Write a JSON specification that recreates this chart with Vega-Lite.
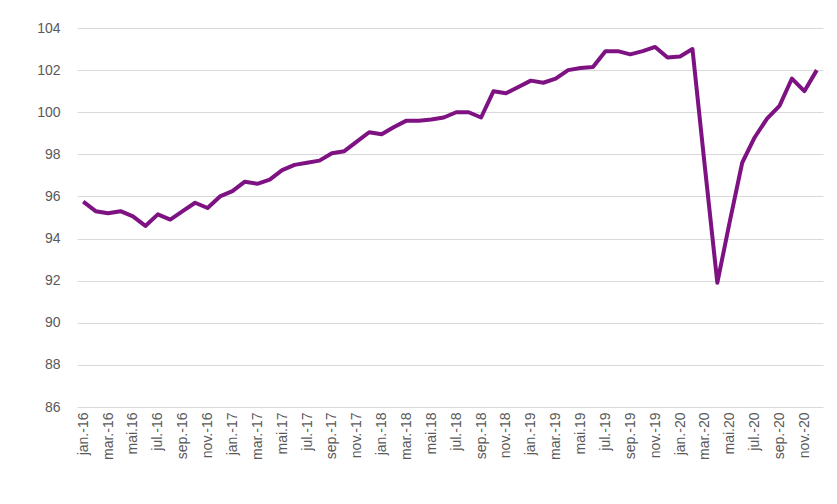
{
  "$schema": "https://vega.github.io/schema/vega-lite/v6.json",
  "autosize": {"type": "none"},
  "width": 746,
  "height": 379,
  "padding": {"left": 77, "top": 28, "right": 14, "bottom": 97},
  "background": "white",
  "config": {
    "view": {"stroke": null},
    "font": "Liberation Sans"
  },
  "data": {
    "values": [
      {"m": "jan.-16", "v": 95.75},
      {"m": "feb.-16", "v": 95.3},
      {"m": "mar.-16", "v": 95.2},
      {"m": "apr.-16", "v": 95.3},
      {"m": "mai.16", "v": 95.05},
      {"m": "jun.-16", "v": 94.6},
      {"m": "jul.-16", "v": 95.15},
      {"m": "aug.-16", "v": 94.9},
      {"m": "sep.-16", "v": 95.3},
      {"m": "okt.-16", "v": 95.7},
      {"m": "nov.-16", "v": 95.45},
      {"m": "des.-16", "v": 96.0},
      {"m": "jan.-17", "v": 96.25},
      {"m": "feb.-17", "v": 96.7},
      {"m": "mar.-17", "v": 96.6},
      {"m": "apr.-17", "v": 96.8},
      {"m": "mai.17", "v": 97.25},
      {"m": "jun.-17", "v": 97.5},
      {"m": "jul.-17", "v": 97.6},
      {"m": "aug.-17", "v": 97.7},
      {"m": "sep.-17", "v": 98.05},
      {"m": "okt.-17", "v": 98.15},
      {"m": "nov.-17", "v": 98.6},
      {"m": "des.-17", "v": 99.05},
      {"m": "jan.-18", "v": 98.95},
      {"m": "feb.-18", "v": 99.3},
      {"m": "mar.-18", "v": 99.6},
      {"m": "apr.-18", "v": 99.6},
      {"m": "mai.18", "v": 99.65},
      {"m": "jun.-18", "v": 99.75},
      {"m": "jul.-18", "v": 100.0},
      {"m": "aug.-18", "v": 100.0},
      {"m": "sep.-18", "v": 99.75},
      {"m": "okt.-18", "v": 101.0},
      {"m": "nov.-18", "v": 100.9},
      {"m": "des.-18", "v": 101.2},
      {"m": "jan.-19", "v": 101.5},
      {"m": "feb.-19", "v": 101.4},
      {"m": "mar.-19", "v": 101.6},
      {"m": "apr.-19", "v": 102.0},
      {"m": "mai.19", "v": 102.1},
      {"m": "jun.-19", "v": 102.15},
      {"m": "jul.-19", "v": 102.9},
      {"m": "aug.-19", "v": 102.9},
      {"m": "sep.-19", "v": 102.75},
      {"m": "okt.-19", "v": 102.9},
      {"m": "nov.-19", "v": 103.1},
      {"m": "des.-19", "v": 102.6},
      {"m": "jan.-20", "v": 102.65},
      {"m": "feb.-20", "v": 103.0},
      {"m": "mar.-20", "v": 97.4},
      {"m": "apr.-20", "v": 91.9},
      {"m": "mai.20", "v": 94.8},
      {"m": "jun.-20", "v": 97.6},
      {"m": "jul.-20", "v": 98.8},
      {"m": "aug.-20", "v": 99.7},
      {"m": "sep.-20", "v": 100.3},
      {"m": "okt.-20", "v": 101.6},
      {"m": "nov.-20", "v": 101.0},
      {"m": "des.-20", "v": 102.0}
    ]
  },
  "mark": {"type": "line", "color": "#7e1282", "strokeWidth": 4, "strokeJoin": "round"},
  "encoding": {
    "x": {
      "field": "m",
      "type": "ordinal",
      "sort": null,
      "scale": {"type": "point", "padding": 0.5},
      "axis": {
        "title": null,
        "values": ["jan.-16","mar.-16","mai.16","jul.-16","sep.-16","nov.-16","jan.-17","mar.-17","mai.17","jul.-17","sep.-17","nov.-17","jan.-18","mar.-18","mai.18","jul.-18","sep.-18","nov.-18","jan.-19","mar.-19","mai.19","jul.-19","sep.-19","nov.-19","jan.-20","mar.-20","mai.20","jul.-20","sep.-20","nov.-20"],
        "labelAngle": -90,
        "labelFontSize": 14,
        "labelColor": "#595959",
        "labelPadding": 5,
        "ticks": false,
        "domain": false,
        "grid": false
      }
    },
    "y": {
      "field": "v",
      "type": "quantitative",
      "scale": {"domain": [86, 104], "nice": false, "zero": false},
      "axis": {
        "title": null,
        "values": [86, 88, 90, 92, 94, 96, 98, 100, 102, 104],
        "labelFontSize": 14,
        "labelColor": "#595959",
        "labelPadding": 17,
        "ticks": false,
        "domain": false,
        "grid": true,
        "gridColor": "#d9d9d9",
        "gridWidth": 1
      }
    }
  }
}
